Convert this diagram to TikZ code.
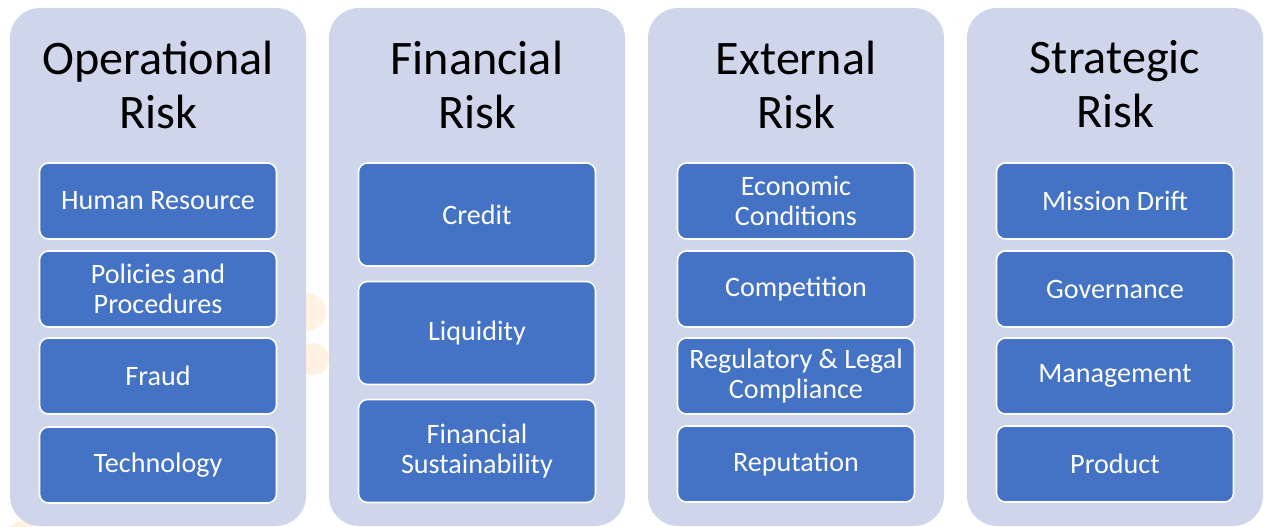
\documentclass[tikz,border=0pt]{standalone}
\usepackage{fontspec}
\setmainfont{Carlito}
\usepackage{tikz}
\usetikzlibrary{positioning}
\definecolor{panelgray}{RGB}{207,213,234}
\definecolor{riskblue}{RGB}{68,114,196}
\definecolor{faintorange}{RGB}{255,242,224}
\tikzset{
  panel/.style={fill=panelgray,rounded corners=0.6cm,minimum width=5.92cm,minimum height=10.36cm,inner sep=0pt},
  title/.style={align=center,text=black,font=\fontsize{27.4}{30.7}\selectfont},
  riskbox/.style={fill=riskblue,draw=white,line width=0.9pt,rounded corners=0.18cm,
    minimum width=4.74cm,minimum height=1.52cm,align=center,text=white,
    font=\fontsize{16}{17.2}\selectfont},
  tallbox/.style={riskbox,minimum height=2.06cm}
}

\begin{document}
\begin{tikzpicture}

\useasboundingbox (0,0) rectangle (25.28,-10.54);

% faint spots behind the panels
\fill[faintorange] (6.14,-6.24) circle [radius=0.38];
\fill[faintorange] (6.26,-7.18) circle [radius=0.32];
\fill[faintorange] (0.44,-10.74) circle [radius=0.32];

% Panels
\node[panel] (opPanel) at (3.16,-5.34) {};
\node[panel] (finPanel) at (9.54,-5.34) {};
\node[panel] (extPanel) at (15.92,-5.34) {};
\node[panel] (strPanel) at (22.30,-5.34) {};

% Titles
\node[title] (opTitle) at (3.16,-1.69) {Operational\\Risk};
\node[title] (finTitle) at (9.54,-1.69) {Financial\\Risk};
\node[title] (extTitle) at (15.92,-1.69) {External\\Risk};
\node[title] (strTitle) at (22.30,-1.69) {Strategic\\Risk};

% Operational
\node[riskbox] (human) at (3.16,-4.02) {Human Resource};
\node[riskbox] (policies) at (3.16,-5.78) {Policies and\\Procedures};
\node[riskbox] (fraud) at (3.16,-7.52) {Fraud};
\node[riskbox] (tech) at (3.16,-9.30) {Technology};

% Financial
\node[tallbox] (credit) at (9.54,-4.29) {Credit};
\node[tallbox] (liquidity) at (9.54,-6.66) {Liquidity};
\node[tallbox] (sustain) at (9.54,-9.02) {Financial\\Sustainability};

% External
\node[riskbox] (economic) at (15.92,-4.02) {Economic\\Conditions};
\node[riskbox] (competition) at (15.92,-5.78) {Competition};
\node[riskbox] (regulatory) at (15.92,-7.52) {Regulatory \& Legal\\Compliance};
\node[riskbox] (reputation) at (15.92,-9.28) {Reputation};

% Strategic
\node[riskbox] (mission) at (22.30,-4.02) {Mission Drift};
\node[riskbox] (governance) at (22.30,-5.78) {Governance};
\node[riskbox] (management) at (22.30,-7.52) {Management};
\node[riskbox] (product) at (22.30,-9.28) {Product};

\end{tikzpicture}
\end{document}
